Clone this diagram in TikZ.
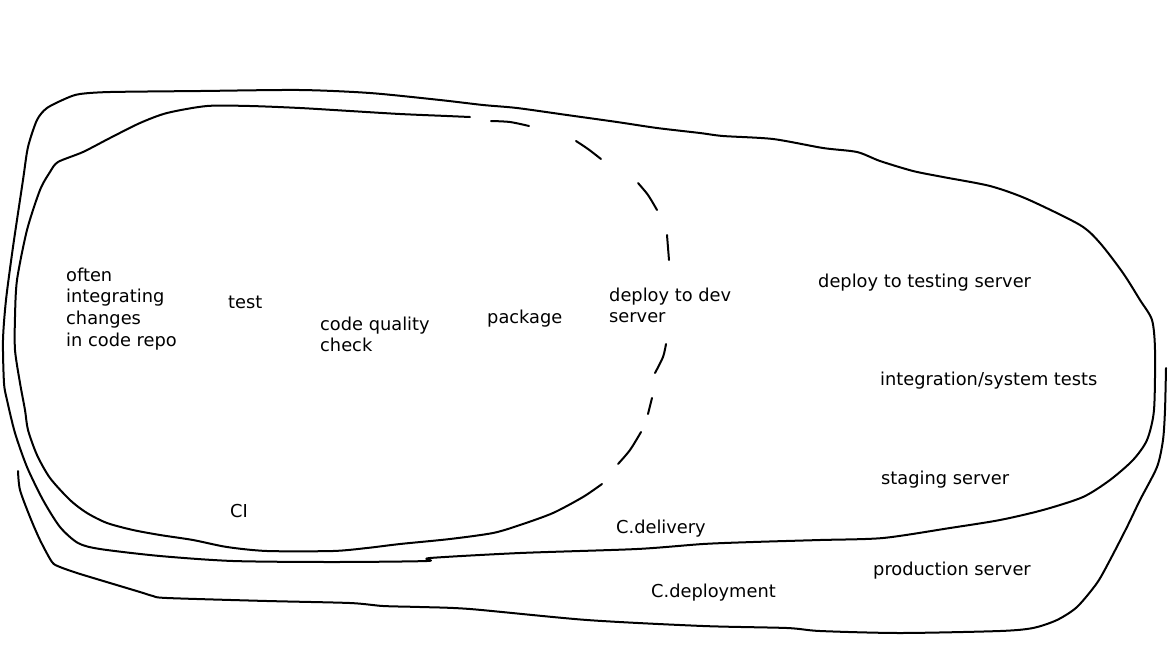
\documentclass[tikz,border=0pt]{standalone}
\usepackage{fontspec}
\newfontfamily\lblfont{DejaVu Sans}
\begin{document}
\begin{tikzpicture}[x=1pt,y=-1pt,
  sketch/.style={line width=2pt, line cap=round, line join=round},
  lbl/.style={font=\lblfont\fontsize{17.8}{21.7}\selectfont, anchor=base west, inner sep=0pt}]
\useasboundingbox (0,0) rectangle (1168,657);
% CI loop (solid part)
\draw[sketch] plot[smooth, tension=0.45] coordinates {(470,117) (447,116) (400,114) (350,111) (300,108) (250,106) (207,106) (167,113) (140,123) (110,138) (83,152) (58,162) (50,172) (40,190) (27,230) (17,280) (15,317) (15,350) (20,383) (25,410) (28,430) (37,455) (50,478) (70,500) (87,513) (107,523) (133,530) (160,535) (193,540) (227,547) (267,551) (333,551) (367,548) (400,544) (450,539) (493,533) (520,525) (553,513) (583,497) (602,484)};
% CI loop (dashed part)
\draw[sketch] plot[smooth] coordinates {(491,121) (510,122) (529,126)};
\draw[sketch] plot[smooth] coordinates {(576,141) (588,149) (601,159)};
\draw[sketch] plot[smooth] coordinates {(638,183) (648,195) (657,210)};
\draw[sketch] (667,235) -- (669,260);
\draw[sketch] plot[smooth] coordinates {(666,344) (663,357) (655,373)};
\draw[sketch] (652,398) -- (648,414);
\draw[sketch] plot[smooth] coordinates {(641,432) (630,450) (618,464)};
% C.delivery loop
\draw[sketch] plot[smooth cycle, tension=0.45] coordinates {(110,92) (200,91) (300,90) (370,93) (440,100) (483,105) (517,108) (567,115) (617,122) (657,128) (700,133) (723,136) (773,139) (823,148) (857,152) (880,161) (913,171) (943,177) (990,186) (1027,199) (1080,225) (1100,243) (1123,273) (1140,300) (1152,320) (1155,350) (1154,410) (1147,440) (1133,460) (1110,480) (1083,497) (1043,510) (1000,520) (950,528) (883,538) (820,540) (753,542) (703,544) (637,549) (520,553) (430,558) (427,561) (333,562) (233,561) (160,556) (100,549) (78,543) (60,527) (43,500) (27,467) (15,433) (7,400) (4,383) (3,340) (6,300) (13,247) (23,180) (28,147) (37,120) (47,108) (67,98) (80,94)};
% C.deployment (open loop)
\draw[sketch] plot[smooth, tension=0.45] coordinates {(18,471) (20,490) (30,517) (40,540) (52,562) (60,567) (77,573) (100,580) (140,592) (153,596) (167,598) (267,601) (350,603) (383,606) (420,607) (470,609) (587,620) (703,626) (787,628) (820,631) (900,633) (1000,631) (1033,628) (1057,620) (1077,607) (1097,583) (1110,560) (1127,527) (1140,500) (1157,467) (1163,440) (1165,410) (1166,368)};
% labels
\node[lbl] (often) at (66,281) {\begin{tabular}[t]{@{}l@{}}often\\integrating\\changes\\in code repo\end{tabular}};
\node[lbl] (test) at (228,308) {test};
\node[lbl] (cqc) at (320,330) {\begin{tabular}[t]{@{}l@{}}code quality\\check\end{tabular}};
\node[lbl] (package) at (487,323) {package};
\node[lbl] (devserver) at (609,301) {\begin{tabular}[t]{@{}l@{}}deploy to dev\\server\end{tabular}};
\node[lbl] (testserver) at (818,287) {deploy to testing server};
\node[lbl] (systests) at (880,385) {integration/system tests};
\node[lbl] (staging) at (881,484) {staging server};
\node[lbl] (production) at (873,575) {production server};
\node[lbl] (ci) at (230,517) {CI};
\node[lbl] (delivery) at (616,533) {C.delivery};
\node[lbl] (deployment) at (651,597) {C.deployment};
\end{tikzpicture}
\end{document}
